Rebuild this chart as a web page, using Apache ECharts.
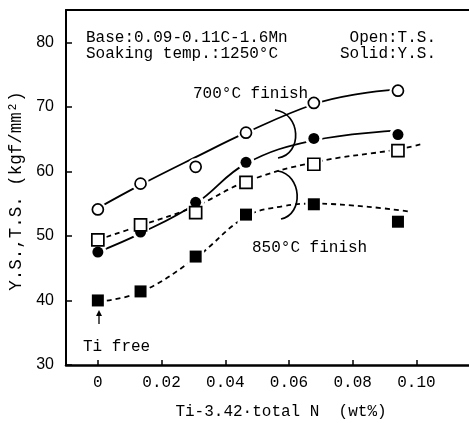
<!DOCTYPE html>
<html>
<head>
<meta charset="utf-8">
<script src="https://cdn.jsdelivr.net/npm/echarts@6/dist/echarts.min.js"></script>
<style>
html, body { margin: 0; padding: 0; background: #fff; }
#main { width: 469px; height: 423px; }
</style>
</head>
<body>
<div id="main"></div>
<script>
// tick labels
var xTicks = [0, 0.02, 0.04, 0.06, 0.08, 0.10];
var yTicks = [30, 40, 50, 60, 70, 80];

// measured points (Ti-3.42*total N, strength)
var tiN = [0, 0.0134, 0.0307, 0.0465, 0.0678, 0.0942];
var ts700 = [54.1, 58.1, 60.7, 66.0, 70.6, 72.5];   // open circle
var ys700 = [47.5, 50.6, 55.2, 61.4, 65.1, 65.7];   // solid circle
var ts850 = [49.4, 51.7, 53.6, 58.3, 61.1, 63.2];   // open square
var ys850 = [40.0, 41.4, 46.8, 53.3, 54.9, 52.2];   // solid square

// hand drawn curves
var ts700CurveX = [0, 0.0134, 0.0307, 0.0465, 0.0678, 0.082, 0.0942];
var ts700CurveY = [54.3, 57.9, 62.2, 66.0, 70.4, 72.0, 72.7];
var ys700CurveX = [0, 0.0134, 0.0307, 0.0465, 0.0678, 0.0942];
var ys700CurveY = [47.5, 50.4, 55.0, 61.2, 64.8, 66.3];
var ts850CurveX = [0, 0.0134, 0.0307, 0.0465, 0.0678, 0.0942, 0.1015];
var ts850CurveY = [49.4, 51.6, 54.6, 58.4, 61.4, 63.4, 64.2];
var ys850CurveX = [0, 0.0134, 0.0307, 0.0465, 0.058, 0.0678, 0.085, 0.0975];
var ys850CurveY = [39.8, 41.3, 46.6, 53.0, 54.6, 55.0, 54.5, 53.8];

function pairs(xs, ys) {
    var out = [];
    for (var i = 0; i < xs.length; i++) {
        out.push([xs[i], ys[i]]);
    }
    return out;
}

var mono = '"Liberation Mono", "DejaVu Sans Mono", monospace';
var sans = '"Liberation Sans", Arial, sans-serif';

function curve(xs, ys, dashed) {
    return {
        type: 'line',
        data: pairs(xs, ys),
        smooth: 0.4,
        showSymbol: false,
        silent: true,
        z: 2,
        lineStyle: { color: '#000', width: 1.8, type: dashed ? [5, 4] : 'solid' }
    };
}
function halo(ys, sym) {
    return {
        type: 'scatter',
        data: pairs(tiN, ys),
        symbol: sym,
        symbolSize: 17,
        z: 3,
        itemStyle: { color: '#fff', opacity: 1 }
    };
}
function marks(ys, sym, size, filled) {
    return {
        type: 'scatter',
        data: pairs(tiN, ys),
        symbol: sym,
        symbolSize: size,
        z: 4,
        itemStyle: filled
            ? { color: '#000', opacity: 1 }
            : { color: '#fff', borderColor: '#000', borderWidth: 1.7, opacity: 1 }
    };
}

var myChart = echarts.init(document.getElementById('main'));
var option = {
    backgroundColor: '#fff',
    animation: false,
    grid: { left: 66, top: 10, right: -12, bottom: 58, containLabel: false },
    xAxis: [{
        type: 'value',
        min: -0.01,
        max: 0.1165,
        axisLine: { show: true, onZero: false, lineStyle: { color: '#000', width: 2.5 } },
        axisTick: { show: true, inside: true, length: 5, customValues: xTicks, lineStyle: { color: '#000', width: 1.5 } },
        axisLabel: {
            customValues: xTicks,
            margin: 10,
            color: '#000',
            fontFamily: mono,
            fontSize: 16,
            formatter: function (v) { return v === 0 ? '0' : v.toFixed(2); }
        },
        splitLine: { show: false }
    }, {
        type: 'value',
        position: 'top',
        min: -0.01,
        max: 0.1165,
        axisLine: { show: true, onZero: false, lineStyle: { color: '#000', width: 2 } },
        axisTick: { show: false },
        axisLabel: { show: false },
        splitLine: { show: false }
    }],
    yAxis: {
        type: 'value',
        min: 30,
        max: 85,
        axisLine: { show: true, onZero: false, lineStyle: { color: '#000', width: 2 } },
        axisTick: { show: true, inside: true, length: 6, customValues: yTicks, lineStyle: { color: '#000', width: 1.5 } },
        axisLabel: { customValues: yTicks, margin: 12, color: '#000', fontFamily: sans, fontSize: 16 },
        splitLine: { show: false }
    },
    series: [
        curve(ts700CurveX, ts700CurveY, false),
        curve(ys700CurveX, ys700CurveY, false),
        curve(ts850CurveX, ts850CurveY, true),
        curve(ys850CurveX, ys850CurveY, true),
        halo(ts700, 'circle'),
        halo(ys700, 'circle'),
        halo(ts850, 'rect'),
        halo(ys850, 'rect'),
        marks(ts700, 'circle', 11, false),
        marks(ys700, 'circle', 11, true),
        marks(ts850, 'rect', 12, false),
        marks(ys850, 'rect', 12, true)
    ],
    graphic: [
        { type: 'text', x: 86, y: 38, style: { text: 'Base:0.09-0.11C-1.6Mn', font: '16px ' + mono, fill: '#000', verticalAlign: 'middle' } },
        { type: 'text', x: 86, y: 54, style: { text: 'Soaking temp.:1250°C', font: '16px ' + mono, fill: '#000', verticalAlign: 'middle' } },
        { type: 'text', x: 436, y: 38, style: { text: 'Open:T.S.', font: '16px ' + mono, fill: '#000', align: 'right', verticalAlign: 'middle' } },
        { type: 'text', x: 436, y: 54, style: { text: 'Solid:Y.S.', font: '16px ' + mono, fill: '#000', align: 'right', verticalAlign: 'middle' } },
        { type: 'text', x: 193, y: 94, style: { text: '700°C finish', font: '16px ' + mono, fill: '#000', verticalAlign: 'middle' } },
        { type: 'text', x: 252, y: 248, style: { text: '850°C finish', font: '16px ' + mono, fill: '#000', verticalAlign: 'middle' } },
        { type: 'text', x: 83, y: 347, style: { text: 'Ti free', font: '16px ' + mono, fill: '#000', verticalAlign: 'middle' } },
        { type: 'bezierCurve', z: 10, shape: { x1: 275, y1: 110, cpx1: 301, cpy1: 113, cpx2: 303, cpy2: 154, x2: 278, y2: 158 }, style: { stroke: '#000', lineWidth: 1.7, fill: null } },
        { type: 'bezierCurve', z: 10, shape: { x1: 278, y1: 171, cpx1: 302, cpy1: 175, cpx2: 304, cpy2: 214, x2: 281, y2: 219 }, style: { stroke: '#000', lineWidth: 1.7, fill: null } },
        { type: 'line', z: 10, shape: { x1: 99, y1: 324, x2: 99, y2: 313 }, style: { stroke: '#000', lineWidth: 1.3 } },
        { type: 'polygon', z: 10, shape: { points: [[96, 316], [99, 310], [102, 316]] }, style: { fill: '#000' } },
        { type: 'text', x: 281, y: 412, style: { text: 'Ti-3.42·total N  (wt%)', font: '16px ' + mono, fill: '#000', align: 'center', verticalAlign: 'middle' } },
        { type: 'text', x: 16, y: 191, rotation: Math.PI / 2, style: { text: 'Y.S.,T.S. (kgf/mm²)', font: '17.5px ' + mono, fill: '#000', align: 'center', verticalAlign: 'middle' } }
    ]
};
myChart.setOption(option);
</script>
</body>
</html>
